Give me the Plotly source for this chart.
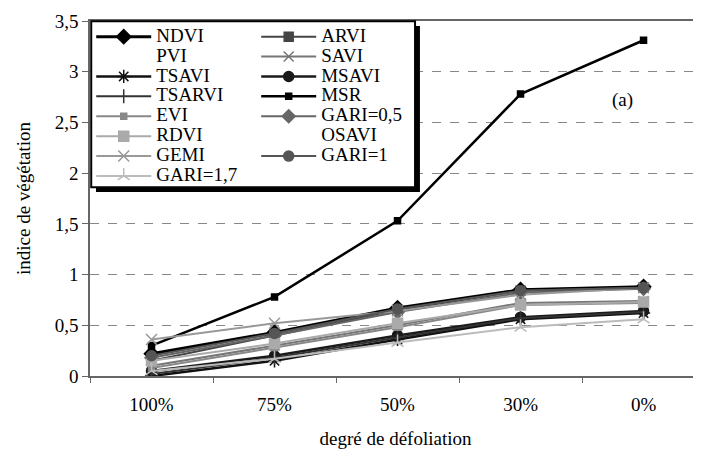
import plotly.graph_objects as go

categories = ["100%", "75%", "50%", "30%", "0%"]

NDVI = [0.22, 0.43, 0.67, 0.85, 0.88]
ARVI = [0.15, 0.40, 0.65, 0.84, 0.87]
PVI = [0.10, 0.28, 0.45, 0.62, 0.70]
SAVI = [0.10, 0.30, 0.50, 0.72, 0.74]
TSAVI = [0.00, 0.15, 0.36, 0.56, 0.62]
MSAVI = [0.05, 0.20, 0.40, 0.58, 0.64]
TSARVI = [0.02, 0.18, 0.38, 0.57, 0.63]
MSR = [0.30, 0.78, 1.53, 2.78, 3.31]
EVI = [0.08, 0.28, 0.48, 0.70, 0.72]
GARI05 = [0.18, 0.40, 0.63, 0.82, 0.86]
RDVI = [0.15, 0.32, 0.52, 0.70, 0.73]
OSAVI = [0.12, 0.30, 0.50, 0.71, 0.73]
GEMI = [0.36, 0.52, 0.64, 0.80, 0.87]
GARI1 = [0.20, 0.42, 0.66, 0.84, 0.87]
GARI17 = [0.05, 0.17, 0.33, 0.48, 0.56]

y_ticks = [0, 0.5, 1, 1.5, 2, 2.5, 3, 3.5]

# name, values, colour, width, symbol, size, legend column
series = [
    ("NDVI", NDVI, "#000000", 3, "diamond", 11, "legend"),
    ("ARVI", ARVI, "#444444", 2, "square", 9, "legend2"),
    ("PVI", PVI, "rgba(255,255,255,0)", 1, "circle", 1, "legend"),
    ("SAVI", SAVI, "#777777", 2, "x-thin-open", 10, "legend2"),
    ("TSAVI", TSAVI, "#111111", 2.5, "asterisk-open", 11, "legend"),
    ("MSAVI", MSAVI, "#1a1a1a", 2.5, "circle", 10, "legend2"),
    ("TSARVI", TSARVI, "#333333", 2, "line-ns-open", 10, "legend"),
    ("MSR", MSR, "#000000", 2.5, "square", 6, "legend2"),
    ("EVI", EVI, "#888888", 2, "square", 6, "legend"),
    ("GARI=0,5", GARI05, "#666666", 2, "diamond", 10, "legend2"),
    ("RDVI", RDVI, "#aaaaaa", 2, "square", 10, "legend"),
    ("OSAVI", OSAVI, "rgba(255,255,255,0)", 1, "circle", 1, "legend2"),
    ("GEMI", GEMI, "#999999", 2, "x-thin-open", 11, "legend"),
    ("GARI=1", GARI1, "#555555", 2, "circle", 10, "legend2"),
    ("GARI=1,7", GARI17, "#bbbbbb", 2, "y-up-open", 10, "legend"),
]

FONT = "Liberation Serif"

fig = go.Figure()
for name, vals, col, w, sym, ms, leg in series:
    fig.add_trace(go.Scatter(
        x=categories, y=vals, mode="lines+markers",
        name='<span style="font-size:19px">' + name + "</span>",
        legend=leg,
        line=dict(color=col, width=w),
        marker=dict(symbol=sym, size=ms, color=col, line=dict(color=col, width=1.5)),
    ))

leg_common = dict(
    yanchor="top", xanchor="left", y=0.998,
    orientation="v", itemwidth=55,
    font=dict(family=FONT, size=13, color="black"),
    bgcolor="rgba(0,0,0,0)", borderwidth=0,
    tracegroupgap=0,
)

fig.update_layout(
    width=693, height=452,
    margin=dict(l=82, r=0, t=13, b=84),
    paper_bgcolor="white", plot_bgcolor="white",
    separators=", ",
    font=dict(family=FONT, size=19, color="black"),
    showlegend=True,
    legend=dict(x=0.002, **leg_common),
    legend2=dict(x=0.272, **leg_common),
    xaxis=dict(
        type="category", categoryorder="array", categoryarray=categories,
        range=[-0.5, 4.467],
        showline=True, linecolor="#666666", linewidth=1.5, mirror=True,
        ticks="outside", tickson="boundaries", ticklen=5, tickcolor="#666666",
        showgrid=False,
        ticklabelstandoff=10,
        tickfont=dict(family=FONT, size=19),
        title=dict(text="degré de défoliation", font=dict(family=FONT, size=19), standoff=18),
    ),
    yaxis=dict(
        range=[0, 3.5], tickvals=y_ticks,
        showline=True, linecolor="#666666", linewidth=1.5,
        ticks="outside", ticklen=6, tickcolor="#666666",
        showgrid=True, gridcolor="#888888", griddash="dash", gridwidth=1,
        zeroline=False,
        tickfont=dict(family=FONT, size=19),
        title=dict(text="indice de végétation", font=dict(family=FONT, size=19), standoff=19),
    ),
    shapes=[
        dict(type="rect", xref="paper", yref="paper", layer="above",
             x0=0.0098, x1=0.540, y0=0.518, y1=0.986,
             fillcolor="black", line=dict(width=0)),
        dict(type="rect", xref="paper", yref="paper", layer="above",
             x0=0.002, x1=0.532, y0=0.532, y1=0.999,
             fillcolor="white", line=dict(color="black", width=2)),
    ],
    annotations=[dict(
        text="(a)", xref="paper", yref="paper", x=0.871, y=0.777,
        xanchor="center", yanchor="middle",
        showarrow=False, font=dict(family=FONT, size=19),
    )],
)

fig.write_html("out.html")
